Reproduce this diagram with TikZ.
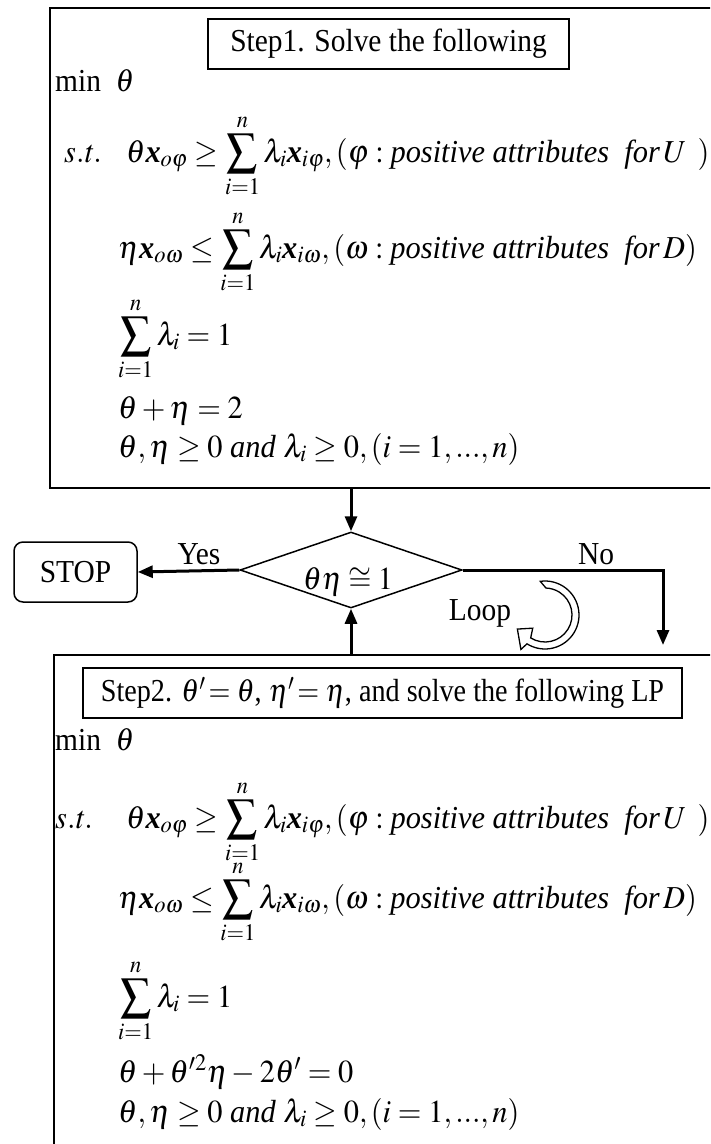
\documentclass[tikz,border=0pt]{standalone}
\usepackage{amsmath}
\usepackage{mathptmx}
\usepackage{fontspec}
\setmainfont{Liberation Serif}
\usepackage{graphicx}
\usetikzlibrary{shapes.geometric,arrows.meta}
\newcommand{\cx}[1]{\scalebox{0.92}[1]{#1}}
\newcommand{\fx}[1]{\scalebox{0.95}[1]{#1}}
\newcommand{\bx}{\text{\bfseries\itshape x}}
\begin{document}
\begin{tikzpicture}[x=1pt,y=-1pt,
  bigbox/.style={draw,line width=2pt,rectangle,anchor=north west,inner sep=0},
  labbox/.style={draw,line width=1.5pt,inner sep=0},
  txt/.style={anchor=base west,inner sep=0,font=\fontsize{32}{38}\selectfont},
  ctxt/.style={inner sep=0,font=\fontsize{32}{38}\selectfont},
  arr/.style={line width=3pt,-{Triangle[length=15pt,width=12pt]}}]
\useasboundingbox (0,0) rectangle (710,1144);
\clip (0,0) rectangle (710,1144);
% big boxes
\node[bigbox,minimum width=690,minimum height=480] (box1) at (49,7) {};
\node[bigbox,minimum width=690,minimum height=540] (box2) at (53,654) {};
% step labels
\node[labbox,minimum width=361,minimum height=50,font=\fontsize{32}{38}\selectfont] (s1) at (388.5,44) {\cx{Step1. Solve the following}};
\node[labbox,minimum width=599,minimum height=50,font=\fontsize{32}{38}\selectfont] (s2) at (382.5,693) {\scalebox{0.88}[1]{Step2. $\theta'\!=\theta$, $\eta'\!=\eta$, and solve the following LP}};
% top formulas
\node[txt] (a0) at (55,91) {\cx{min\ \ $\theta$}};
\node[txt] (a1s) at (64,162) {\fx{$\mathit{s.t.}$}};
\node[txt] (a1) at (126,162) {\fx{$\theta\bx_{o\varphi} \ge \displaystyle\sum_{i=1}^{n}\lambda_i\bx_{i\varphi},(\varphi: \textit{positive attributes\ \ for}\,U\ \,)$}};
\node[txt] (a2) at (118,258) {\fx{$\eta\bx_{o\omega} \le \displaystyle\sum_{i=1}^{n}\lambda_i\bx_{i\omega},(\omega: \textit{positive attributes\ \ for}\,D)$}};
\node[txt] (a3) at (118,345) {\fx{$\displaystyle\sum_{i=1}^{n}\lambda_i = 1$}};
\node[txt] (a4) at (118,418) {\fx{$\theta+\eta=2$}};
\node[txt] (a5) at (118,457) {\fx{$\theta,\eta \ge 0\ \textit{and}\ \lambda_i \ge 0,(i=1,...,n)$}};
% decision
\node[draw,diamond,line width=1.5pt,minimum width=222,minimum height=76,inner sep=0,aspect=2.9] (dec) at (351,570) {};
\node[ctxt] (dect) at (348,582) {\cx{$\theta\eta \cong 1$}};
\node[draw,rounded corners=9pt,line width=1.5pt,minimum width=123,minimum height=60,inner sep=0,font=\fontsize{32}{38}\selectfont] (stop) at (75.5,572) {\cx{STOP}};
\coordinate (notip) at (663,645);
\draw[arr] (dec.north |- box1.south) -- (dec.north);
\draw[arr] (dec.west) -- (stop.east);
\draw[arr] (dec.east) -| (notip);
\draw[arr] (dec.south |- box2.north) -- (dec.south);
\node[ctxt,anchor=base] (yes) at (199,564) {\cx{Yes}};
\node[ctxt,anchor=base] (no) at (596,564) {\cx{No}};
\node[ctxt,anchor=base] (loop) at (480,620) {\cx{Loop}};
% loop symbol
\begin{scope}[shift={(545,615)},y=1pt]
\draw[line width=1.3pt,fill=white] (98:34) arc[start angle=98,end angle=-122,radius=34] -- (-125:42) -- (-153:31) -- (-133:18) -- (-122:27) arc[start angle=-122,end angle=88,radius=27] -- cycle;
\end{scope}
% bottom formulas
\node[txt] (b0) at (55,750) {\cx{min\ \ $\theta$}};
\node[txt] (b1s) at (55,828) {\fx{$\mathit{s.t.}$}};
\node[txt] (b1) at (126,828) {\fx{$\theta\bx_{o\varphi} \ge \displaystyle\sum_{i=1}^{n}\lambda_i\bx_{i\varphi},(\varphi: \textit{positive attributes\ \ for}\,U\ \,)$}};
\node[txt] (b2) at (118,908) {\fx{$\eta\bx_{o\omega} \le \displaystyle\sum_{i=1}^{n}\lambda_i\bx_{i\omega},(\omega: \textit{positive attributes\ \ for}\,D)$}};
\node[txt] (b3) at (118,1007) {\fx{$\displaystyle\sum_{i=1}^{n}\lambda_i = 1$}};
\node[txt] (b4) at (118,1082) {\fx{$\theta+\theta^{\prime 2}\eta-2\theta^{\prime}=0$}};
\node[txt] (b5) at (118,1122) {\fx{$\theta,\eta \ge 0\ \textit{and}\ \lambda_i \ge 0,(i=1,...,n)$}};
\end{tikzpicture}
\end{document}
